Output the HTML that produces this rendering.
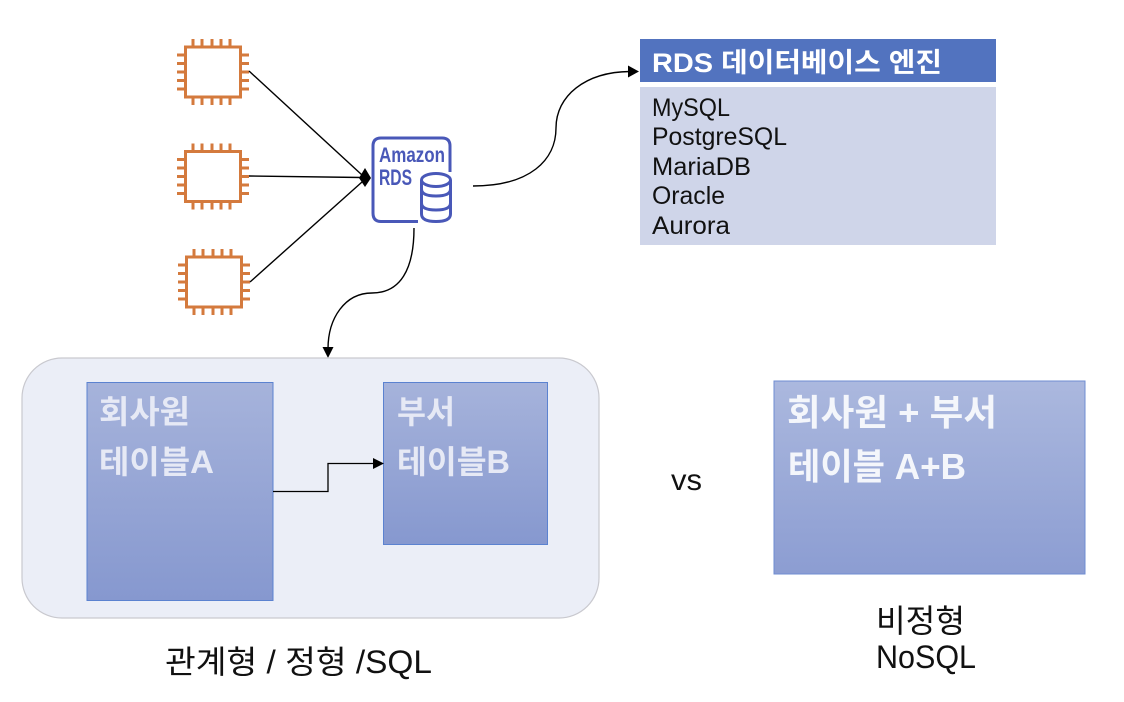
<!DOCTYPE html>
<html><head><meta charset="utf-8"><style>
html,body{margin:0;padding:0;background:#fff}
svg{display:block}
text{font-family:"Liberation Sans","Noto Sans CJK KR",sans-serif}
</style></head><body>
<svg width="1124" height="702" viewBox="0 0 1124 702" xmlns="http://www.w3.org/2000/svg">
<defs>
<linearGradient id="g1" x1="0" y1="0" x2="0" y2="1"><stop offset="0" stop-color="#a6b3db"/><stop offset="1" stop-color="#8698cf"/></linearGradient>
<linearGradient id="g2" x1="0" y1="0" x2="0" y2="1"><stop offset="0" stop-color="#abb8de"/><stop offset="1" stop-color="#8c9dd2"/></linearGradient>
<filter id="soft" x="-5%" y="-5%" width="110%" height="110%"><feGaussianBlur stdDeviation="0.35"/></filter>
<g id="chip" fill="none" stroke="#d47a3c" stroke-width="3">
<rect x="185.500" y="47" width="55" height="50"/>
<path d="M193 39v8M202 39v8M212 39v8M221 39v8M230 39v8M193 97v8M202 97v8M212 97v8M221 97v8M230 97v8M177 55h8M177 63.500h8M177 72h8M177 80.500h8M177 89h8M241 55h8M241 63.500h8M241 72h8M241 80.500h8M241 89h8"/>
</g>
</defs>
<rect width="1124" height="702" fill="#fff"/>

<g filter="url(#soft)">
<use href="#chip"/>
<use href="#chip" y="104.500"/>
<use href="#chip" x="1" y="210"/>
</g>

<g filter="url(#soft)">
<g fill="none" stroke="#4a58b8" stroke-width="3">
<path d="M418 221.500H381Q373 221.500 373 213V146Q373 138 381 138H442Q450 138 450 146V172"/>
<ellipse cx="436" cy="180" rx="14.500" ry="6.500"/>
<path d="M421.500 180V214Q421.500 221.500 436 221.500Q450.500 221.500 450.500 214V180M421.500 189Q421.500 196 436 196Q450.500 196 450.500 189M421.500 203Q421.500 210 436 210Q450.500 210 450.500 203"/>
</g>
<text x="379" y="162" font-size="21" font-weight="700" fill="#4a58b8" textLength="66" lengthAdjust="spacingAndGlyphs">Amazon</text>
<text x="379" y="185" font-size="22" font-weight="700" fill="#4a58b8" textLength="33" lengthAdjust="spacingAndGlyphs">RDS</text>
</g>

<g fill="none" stroke="#000" stroke-width="1.400">
<path d="M249 71L362 175"/>
<path d="M249 176L362 177.500"/>
<path d="M250 282L362 182"/>
<path d="M473 186C530 186 556 160 556 128C556 96 585 72 630 71.500"/>
<path d="M414 228C414 270 400 293 372 293C345 293 328 318 328 349"/>
</g>
<path d="M359 178L365 168L371 178L365 187Z" fill="#000"/>
<path d="M628 65.500L639 71.500L628 77.500Z" fill="#000"/>
<path d="M322.500 347L333.500 347L328 358Z" fill="#000"/>

<rect x="640" y="39" width="356" height="43" fill="#5273bf"/>
<text x="652" y="72" font-size="27" font-weight="700" fill="#fff" textLength="290" lengthAdjust="spacingAndGlyphs">RDS 데이터베이스 엔진</text>
<rect x="640" y="87" width="356" height="158" fill="#cfd5e9"/>
<g font-size="25" fill="#111">
<text x="652" y="116" textLength="78" lengthAdjust="spacingAndGlyphs">MySQL</text>
<text x="652" y="145" textLength="135" lengthAdjust="spacingAndGlyphs">PostgreSQL</text>
<text x="652" y="175" textLength="99" lengthAdjust="spacingAndGlyphs">MariaDB</text>
<text x="652" y="204" textLength="73" lengthAdjust="spacingAndGlyphs">Oracle</text>
<text x="652" y="234" textLength="78" lengthAdjust="spacingAndGlyphs">Aurora</text>
</g>

<rect x="22" y="358" width="577" height="260" rx="40" fill="#ebeef7" stroke="#c9c9cf" stroke-width="1.200"/>
<rect x="87" y="382.500" width="186" height="218" fill="url(#g1)" stroke="#5b82d0" stroke-width="1"/>
<rect x="383.500" y="382.500" width="164" height="162" fill="url(#g1)" stroke="#5b82d0" stroke-width="1"/>
<path d="M273 491.500H328V463.500H375" fill="none" stroke="#000" stroke-width="1.300"/>
<path d="M373 458L384 463.500L373 469Z" fill="#000"/>

<g font-size="32" font-weight="700" fill="#e6e9f5">
<text x="99" y="423" textLength="91" lengthAdjust="spacingAndGlyphs">회사원</text>
<text x="99" y="473" textLength="115" lengthAdjust="spacingAndGlyphs">테이블A</text>
<text x="397" y="423" textLength="58" lengthAdjust="spacingAndGlyphs">부서</text>
<text x="397" y="473" textLength="113" lengthAdjust="spacingAndGlyphs">테이블B</text>
</g>

<rect x="774" y="381" width="311" height="193" fill="url(#g2)" stroke="#6f8dd2" stroke-width="1"/>
<g font-size="36" font-weight="700" fill="#f4f6fb">
<text x="787" y="425" textLength="210" lengthAdjust="spacingAndGlyphs">회사원 + 부서</text>
<text x="788" y="479" textLength="178" lengthAdjust="spacingAndGlyphs">테이블 A+B</text>
</g>

<g fill="#111">
<text x="671" y="490" font-size="30" textLength="31" lengthAdjust="spacingAndGlyphs">vs</text>
<text x="165" y="673" font-size="32" textLength="267" lengthAdjust="spacingAndGlyphs">관계형 / 정형 /SQL</text>
<text x="876" y="632" font-size="32" textLength="89" lengthAdjust="spacingAndGlyphs">비정형</text>
<text x="876" y="668" font-size="32" textLength="100" lengthAdjust="spacingAndGlyphs">NoSQL</text>
</g>
</svg>
</body></html>
